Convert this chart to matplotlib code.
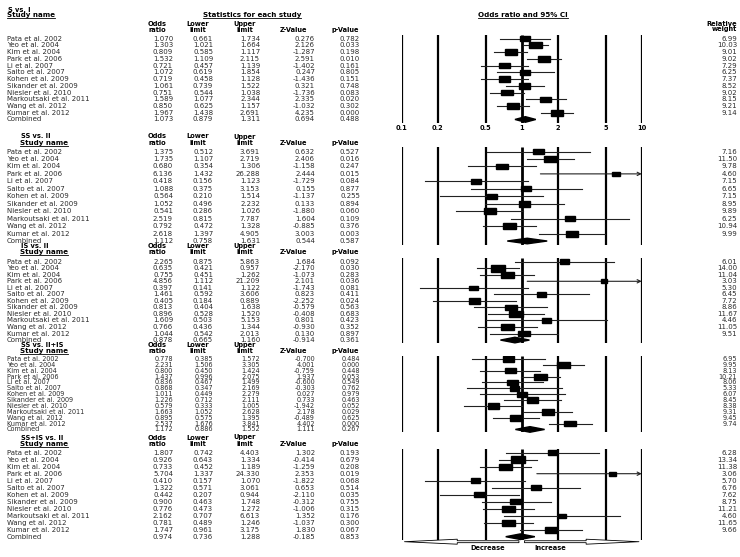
import numpy as np
import matplotlib
matplotlib.use("Agg")
import matplotlib.pyplot as plt
from matplotlib.patches import Rectangle, Polygon, FancyArrowPatch
from matplotlib.lines import Line2D
from matplotlib.transforms import blended_transform_factory

plt.rcParams['font.family'] = ['DejaVu Sans']

# ---- data ----
studies = ["Pata et al. 2002", "Yeo et al. 2004", "Kim et al. 2004", "Park et al. 2006",
           "Li et al. 2007", "Saito et al. 2007", "Kohen et al. 2009", "Sikander et al. 2009",
           "Niesler et al. 2010", "Markoutsaki et al. 2011", "Wang et al. 2012",
           "Kumar et al. 2012", "Combined"]
comparisons = ["S vs. I", "SS vs. II", "IS vs. II", "SS vs. II+IS", "SS+IS vs. II"]

or_s_i = [1.070, 1.303, 0.809, 1.532, 0.721, 1.072, 0.719, 1.061, 0.751, 1.589, 0.850, 1.967, 1.073]
lo_s_i = [0.661, 1.021, 0.585, 1.109, 0.457, 0.619, 0.458, 0.739, 0.544, 1.077, 0.625, 1.438, 0.879]
hi_s_i = [1.734, 1.664, 1.117, 2.115, 1.139, 1.854, 1.128, 1.522, 1.038, 2.344, 1.157, 2.691, 1.311]
z_s_i = [0.276, 2.126, -1.287, 2.591, -1.402, 0.247, -1.436, 0.321, -1.736, 2.335, -1.032, 4.235, 0.694]
p_s_i = [0.782, 0.033, 0.198, 0.010, 0.161, 0.805, 0.151, 0.748, 0.083, 0.020, 0.302, 0.000, 0.488]
w_s_i = [6.99, 10.03, 9.01, 9.02, 7.29, 6.25, 7.37, 8.52, 9.02, 8.15, 9.21, 9.14]

or_ss_ii = [1.375, 1.735, 0.680, 6.136, 0.418, 1.088, 0.564, 1.052, 0.541, 2.519, 0.792, 2.618, 1.112]
lo_ss_ii = [0.512, 1.107, 0.354, 1.432, 0.156, 0.375, 0.210, 0.496, 0.286, 0.815, 0.472, 1.397, 0.758]
hi_ss_ii = [3.691, 2.719, 1.306, 26.288, 1.123, 3.153, 1.514, 2.232, 1.026, 7.787, 1.328, 4.905, 1.631]
z_ss_ii = [0.632, 2.406, -1.158, 2.444, -1.729, 0.155, -1.137, 0.133, -1.880, 1.604, -0.885, 3.003, 0.544]
p_ss_ii = [0.527, 0.016, 0.247, 0.015, 0.084, 0.877, 0.255, 0.894, 0.060, 0.109, 0.376, 0.003, 0.587]
w_ss_ii = [7.16, 11.50, 9.78, 4.60, 7.15, 6.65, 7.15, 8.95, 9.89, 6.25, 10.94, 9.99]

or_is_ii = [2.265, 0.635, 0.755, 4.856, 0.397, 1.461, 0.405, 0.813, 0.896, 1.609, 0.766, 1.044, 0.878]
lo_is_ii = [0.875, 0.421, 0.451, 1.112, 0.141, 0.592, 0.184, 0.404, 0.528, 0.503, 0.436, 0.542, 0.665]
hi_is_ii = [5.863, 0.957, 1.262, 21.209, 1.122, 3.606, 0.889, 1.638, 1.520, 5.153, 1.344, 2.013, 1.160]
z_is_ii = [1.684, -2.170, -1.073, 2.101, -1.743, 0.823, -2.252, -0.579, -0.408, 0.801, -0.930, 0.130, -0.914]
p_is_ii = [0.092, 0.030, 0.283, 0.036, 0.081, 0.411, 0.024, 0.563, 0.683, 0.423, 0.352, 0.897, 0.361]
w_is_ii = [6.01, 14.00, 11.04, 3.03, 5.30, 6.45, 7.72, 8.86, 11.67, 4.46, 11.05, 9.51]

or_ss_iiis = [0.778, 2.231, 0.800, 1.437, 0.836, 0.868, 1.011, 1.226, 0.579, 1.663, 0.895, 2.537, 1.172]
lo_ss_iiis = [0.385, 1.506, 0.450, 0.996, 0.467, 0.347, 0.449, 0.712, 0.333, 1.052, 0.575, 1.676, 0.886]
hi_ss_iiis = [1.572, 3.305, 1.424, 2.075, 1.499, 2.169, 2.279, 2.111, 1.005, 2.628, 1.395, 3.841, 1.552]
z_ss_iiis = [-0.700, 4.001, -0.759, 1.937, -0.600, -0.303, 0.027, 0.733, -1.942, 2.178, -0.489, 4.402, 1.111]
p_ss_iiis = [0.484, 0.000, 0.448, 0.053, 0.549, 0.762, 0.979, 0.463, 0.052, 0.029, 0.625, 0.000, 0.267]
w_ss_iiis = [6.95, 9.95, 8.13, 10.21, 8.06, 5.33, 6.07, 8.45, 8.38, 9.31, 9.45, 9.74]

or_ssis_ii = [1.807, 0.926, 0.733, 5.704, 0.410, 1.322, 0.442, 0.900, 0.776, 2.162, 0.781, 1.747, 0.974]
lo_ssis_ii = [0.742, 0.643, 0.452, 1.337, 0.157, 0.571, 0.207, 0.463, 0.473, 0.707, 0.489, 0.961, 0.736]
hi_ssis_ii = [4.403, 1.334, 1.189, 24.330, 1.070, 3.061, 0.944, 1.748, 1.272, 6.613, 1.246, 3.175, 1.288]
z_ssis_ii = [1.302, -0.414, -1.259, 2.353, -1.822, 0.653, -2.110, -0.312, -1.006, 1.352, -1.037, 1.830, -0.185]
p_ssis_ii = [0.193, 0.679, 0.208, 0.019, 0.068, 0.514, 0.035, 0.755, 0.315, 0.176, 0.300, 0.067, 0.853]
w_ssis_ii = [6.28, 13.34, 11.38, 3.06, 5.70, 6.76, 7.62, 8.75, 11.21, 4.60, 11.65, 9.66]

ticks = [0.1, 0.2, 0.5, 1, 2, 5, 10]
tick_labels = ["0.1", "0.2", "0.5", "1", "2", "5", "10"]

panels = [
    (or_s_i, lo_s_i, hi_s_i, z_s_i, p_s_i, w_s_i),
    (or_ss_ii, lo_ss_ii, hi_ss_ii, z_ss_ii, p_ss_ii, w_ss_ii),
    (or_is_ii, lo_is_ii, hi_is_ii, z_is_ii, p_is_ii, w_is_ii),
    (or_ss_iiis, lo_ss_iiis, hi_ss_iiis, z_ss_iiis, p_ss_iiis, w_ss_iiis),
    (or_ssis_ii, lo_ssis_ii, hi_ssis_ii, z_ssis_ii, p_ssis_ii, w_ssis_ii),
]

# ---- layout (pixels of the 740x557 picture) ----
W, H = 740, 557
# first row y, row step, title y, header line 1 y, header line 2 y, header x
layout = [
    (38.7, 6.73, 9.5, 24.0, 30.0, 7),
    (151.5, 7.46, 136.5, 136.5, 143.0, 20),
    (261.7, 6.53, 246.0, 246.0, 252.0, 20),
    (359.0, 5.87, 345.0, 345.0, 351.0, 20),
    (452.7, 7.00, 437.5, 437.5, 444.0, 20),
]
forest_left, forest_w = 401.7, 240.0
num_right = [173, 213, 260, 315, 360]
head_center = [157, 198, 245, 293, 345]
weight_right = 737
TXT = '#2a2a2a'
HFS = 4.8


def fx(px):
    return px / W


def fy(py):
    return 1 - py / H


fig = plt.figure(figsize=(W / 100, H / 100), dpi=100)
fig.patch.set_facecolor('white')
underlined = []

for k, (vals, lay) in enumerate(zip(panels, layout)):
    ors, los, his, zs, ps, ws = vals
    y0, step, ty, h1, h2, hx = lay
    fs = min(step * 0.8, 5.0)
    top = y0 - 0.55 * step
    bot = y0 + 12 * step + 0.5 * step
    ax = fig.add_axes([fx(forest_left), fy(bot), forest_w / W, (bot - top) / H])
    ax.patch.set_alpha(0)
    ax.set_xscale('log')
    ax.set_xlim(0.1, 10)
    ax.set_ylim(12 + 0.5, -0.55)
    for s in ax.spines.values():
        s.set_visible(False)
    ax.minorticks_off()
    ax.tick_params(axis='y', left=False, labelleft=False)
    if k == 0:
        ax.set_xticks(ticks)
        ax.set_xticklabels(tick_labels, fontsize=HFS, fontweight='bold')
        ax.tick_params(axis='x', length=0, pad=1.8)
    else:
        ax.tick_params(axis='x', bottom=False, labelbottom=False)

    ax.vlines(ticks, -0.55, 12.5, colors='black',
              linewidths=[2.0 if t == 1 else 1.6 for t in ticks], zorder=1)

    # studies
    for i in range(12):
        lo, hi, orv = los[i], his[i], ors[i]
        if hi > 10 or lo < 0.1:
            ax.annotate('', xy=(min(hi, 10), i), xytext=(max(lo, 0.1), i),
                        arrowprops=dict(arrowstyle='->', lw=0.8, color='#222222',
                                        shrinkA=0, shrinkB=0, mutation_scale=6),
                        zorder=2)
        else:
            ax.plot([lo, hi], [i, i], color='#222222', lw=0.8, zorder=2)
        wpx = 3.9 * np.sqrt(ws[i])
        hpx = 0.38 * wpx + 1.2
        f = 10 ** (wpx / 2 / 120.0)
        ax.add_patch(Rectangle((orv / f, i - hpx / 2 / step), orv * f - orv / f, hpx / step,
                               color='black', zorder=3))
    # combined diamond
    dh = 2.8 / step
    ax.add_patch(Polygon([(los[12], 12), (ors[12], 12 - dh), (his[12], 12), (ors[12], 12 + dh)],
                         closed=True, color='black', zorder=3, clip_on=False))

    # table text
    tr = blended_transform_factory(fig.transFigure, ax.transData)
    for i, name in enumerate(studies):
        ax.text(fx(7), i, name, transform=tr, fontsize=fs, color=TXT, va='center', ha='left',
                clip_on=False)
        cols = ["%.3f" % ors[i], "%.3f" % los[i], "%.3f" % his[i], "%.3f" % zs[i], "%.3f" % ps[i]]
        for c, xr in zip(cols, num_right):
            ax.text(fx(xr), i, c, transform=tr, fontsize=fs, color=TXT, va='center',
                    ha='right', clip_on=False)
        if i < 12:
            ax.text(fx(weight_right), i, "%.2f" % ws[i], transform=tr, fontsize=fs, color=TXT,
                    va='center', ha='right', clip_on=False)

    # headers
    fig.text(fx(hx + 1), fy(ty), comparisons[k], fontsize=HFS, fontweight='bold',
             va='center', ha='left')
    sn = fig.text(fx(hx), fy(15.5 if k == 0 else h2), "Study name", fontsize=HFS + 0.3,
                  fontweight='bold', va='center', ha='left')
    underlined.append(sn)
    for lbl, xc in zip(["Odds", "Lower", "Upper"], head_center[:3]):
        fig.text(fx(xc), fy(h1), lbl, fontsize=HFS, fontweight='bold', va='center', ha='center')
    for lbl, xc in zip(["ratio", "limit", "limit", "Z-Value", "p-Value"], head_center):
        fig.text(fx(xc), fy(h2), lbl, fontsize=HFS, fontweight='bold', va='center', ha='center')

st = fig.text(fx(252), fy(15.5), "Statistics for each study", fontsize=HFS + 0.3,
              fontweight='bold', va='center', ha='center')
ci = fig.text(fx(523), fy(15.0), "Odds ratio and 95% CI", fontsize=HFS + 0.3,
              fontweight='bold', va='center', ha='center')
underlined += [st, ci]
fig.text(fx(weight_right), fy(23.5), "Relative", fontsize=HFS, fontweight='bold', va='center', ha='right')
fig.text(fx(weight_right), fy(29.5), "weight", fontsize=HFS, fontweight='bold', va='center', ha='right')

# decrease / increase arrows below last panel
y0, step = layout[-1][0], layout[-1][1]
ya = 12 + (541.7 - (y0 + 12 * step)) / step
for xt in (0.1, 10):
    arr = FancyArrowPatch((1, ya), (xt, ya),
                          arrowstyle='simple,head_length=38,head_width=3.6,tail_width=1.4',
                          mutation_scale=1, fc='white', ec='black', lw=0.6, clip_on=False, zorder=4)
    ax.add_patch(arr)
fig.text(fx(488), fy(548), "Decrease", fontsize=HFS, fontweight='bold', va='center', ha='center')
fig.text(fx(550), fy(548), "Increase", fontsize=HFS, fontweight='bold', va='center', ha='center')

renderer = fig.canvas.get_renderer()
for t in underlined:
    bb = t.get_window_extent(renderer)
    fig.add_artist(Line2D([bb.x0 / W, bb.x1 / W], [(bb.y0 + 0.2) / H] * 2, color='black',
                          lw=0.6, transform=fig.transFigure))

fig.savefig('out.png', dpi=100)
